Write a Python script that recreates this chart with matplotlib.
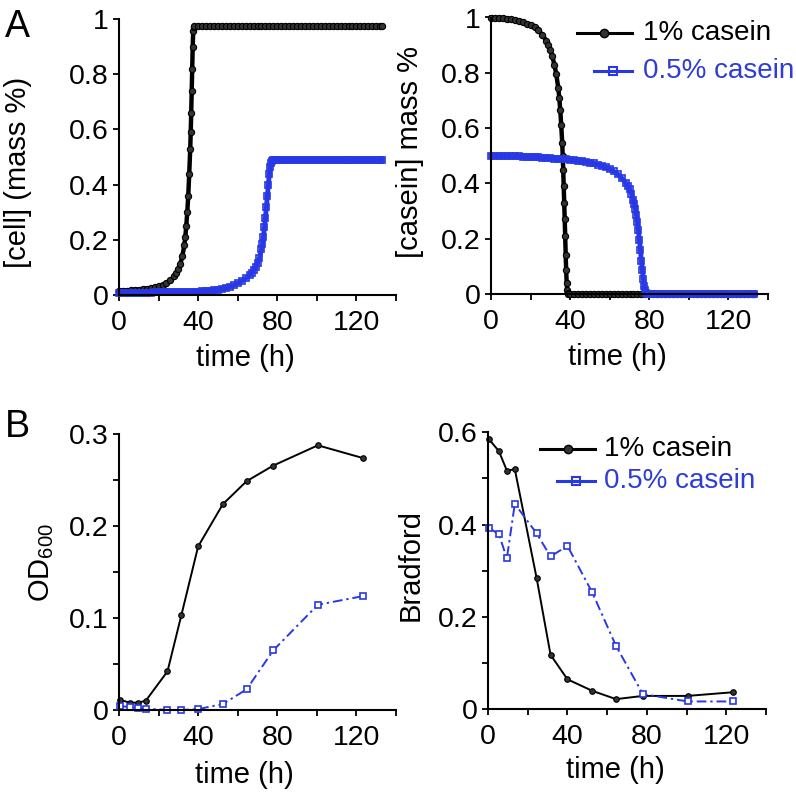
import numpy as np
import matplotlib
matplotlib.use("Agg")
import matplotlib.pyplot as plt
from matplotlib.ticker import MultipleLocator, FuncFormatter

plt.rcParams['font.family'] = 'Liberation Sans'
plt.rcParams['mathtext.default'] = 'regular'

BLUE = '#2838E4'
BLUE_TEXT = '#2F3DD8'

# ---- Panel A: model curves ----
t_cell_1 = [0, 2, 4, 6, 8, 10, 12, 14, 16, 18, 20, 22, 24, 26, 28, 29, 30, 31, 32, 33,
            33.5, 34, 34.5, 35, 35.5, 36, 36.25, 36.5, 36.75, 37, 37.25, 37.5, 37.75, 38,
            40, 42, 44, 46, 48, 50, 52, 54, 56, 58, 60, 62, 64, 66, 68, 70, 72, 74, 76, 78,
            80, 82, 84, 86, 88, 90, 92, 94, 96, 98, 100, 102, 104, 106, 108, 110, 112, 114,
            116, 118, 120, 122, 124, 126, 128, 130, 132, 133]
cell_1 = [0.015, 0.015, 0.016, 0.017, 0.018, 0.019, 0.021, 0.023, 0.025, 0.028, 0.031, 0.036,
          0.043, 0.053, 0.068, 0.078, 0.093, 0.113, 0.140, 0.180,
          0.21, 0.25, 0.30, 0.36, 0.44, 0.53, 0.59, 0.66, 0.74, 0.82, 0.90, 0.955, 0.972, 0.975,
          0.975, 0.975, 0.975, 0.975, 0.975, 0.975, 0.975, 0.975, 0.975, 0.975, 0.975, 0.975,
          0.975, 0.975, 0.975, 0.975, 0.975, 0.975, 0.975, 0.975, 0.975, 0.975, 0.975, 0.975,
          0.975, 0.975, 0.975, 0.975, 0.975, 0.975, 0.975, 0.975, 0.975, 0.975, 0.975, 0.975,
          0.975, 0.975, 0.975, 0.975, 0.975, 0.975, 0.975, 0.975, 0.975, 0.975, 0.975, 0.975]

t_cell_05 = [0, 2, 4, 6, 8, 10, 12, 14, 16, 18, 20, 22, 24, 26, 28, 30, 32, 34, 36, 38, 40,
             42, 44, 46, 48, 50, 52, 54, 56, 58, 60, 62, 64, 66, 67, 68, 69, 70, 71, 72, 72.5,
             73, 73.5, 74, 74.5, 75, 75.5, 76, 76.5, 77, 77.5, 78, 79, 80, 82, 84, 86, 88, 90,
             92, 94, 96, 98, 100, 102, 104, 106, 108, 110, 112, 114, 116, 118, 120, 122, 124,
             126, 128, 130, 132, 133]
cell_05 = [0.008, 0.008, 0.008, 0.008, 0.008, 0.009, 0.009, 0.009, 0.009, 0.010, 0.010, 0.010,
           0.010, 0.010, 0.011, 0.011, 0.011, 0.011, 0.012, 0.012, 0.012,
           0.013, 0.014, 0.016, 0.017, 0.019, 0.021, 0.024, 0.029, 0.035, 0.042, 0.050, 0.060,
           0.073, 0.081, 0.090, 0.100, 0.115, 0.135, 0.165, 0.185,
           0.21, 0.245, 0.28, 0.32, 0.36, 0.40, 0.44, 0.465, 0.478, 0.485, 0.488, 0.489, 0.489,
           0.489, 0.489, 0.489, 0.489, 0.489, 0.489, 0.489, 0.489, 0.489, 0.489, 0.489, 0.489,
           0.489, 0.489, 0.489, 0.489, 0.489, 0.489, 0.489, 0.489, 0.489, 0.489, 0.489, 0.489,
           0.489, 0.489, 0.489]

t_cas_1 = [0, 2, 4, 6, 8, 10, 12, 14, 16, 18, 20, 22, 24, 26, 28, 29, 30, 31, 32, 33, 34,
           34.5, 35, 35.5, 36, 36.25, 36.5, 36.75, 37, 37.25, 37.5, 37.75, 38, 38.25, 38.5,
           38.75, 39, 40, 42, 44, 46, 48, 50, 52, 54, 56, 58, 60, 62, 64, 66, 68, 70, 72, 74,
           76, 78, 80, 82, 84, 86, 88, 90, 92, 94, 96, 98, 100, 102, 104, 106, 108, 110, 112,
           114, 116, 118, 120, 122, 124, 126, 128, 130, 132, 133]
cas_1 = [1.0, 0.999, 0.998, 0.997, 0.995, 0.993, 0.990, 0.987, 0.983, 0.978, 0.972, 0.964,
         0.953, 0.937, 0.915, 0.900, 0.882, 0.860, 0.830, 0.795, 0.745,
         0.71, 0.665, 0.61, 0.545, 0.50, 0.45, 0.39, 0.33, 0.27, 0.21, 0.14, 0.085, 0.04, 0.015,
         0.004, 0.0, 0.0, 0.0, 0.0, 0.0, 0.0, 0.0, 0.0, 0.0, 0.0, 0.0, 0.0, 0.0, 0.0, 0.0, 0.0,
         0.0, 0.0, 0.0, 0.0, 0.0, 0.0, 0.0, 0.0, 0.0, 0.0, 0.0, 0.0, 0.0, 0.0, 0.0, 0.0, 0.0,
         0.0, 0.0, 0.0, 0.0, 0.0, 0.0, 0.0, 0.0, 0.0, 0.0, 0.0, 0.0, 0.0, 0.0, 0.0, 0.0]

t_cas_05 = [0, 2, 4, 6, 8, 10, 12, 14, 16, 18, 20, 22, 24, 26, 28, 30, 32, 34, 36, 38, 40,
            42, 44, 46, 48, 50, 52, 54, 56, 58, 60, 62, 64, 66, 68, 69, 70, 71, 72, 72.5, 73,
            73.5, 74, 74.5, 75, 75.5, 76, 76.5, 77, 77.5, 78, 78.5, 79, 80, 82, 84, 86, 88, 90,
            92, 94, 96, 98, 100, 102, 104, 106, 108, 110, 112, 114, 116, 118, 120, 122, 124,
            126, 128, 130, 132, 133]
cas_05 = [0.500, 0.500, 0.499, 0.499, 0.499, 0.499, 0.498, 0.498, 0.497, 0.497, 0.496, 0.495,
          0.494, 0.493, 0.492, 0.491, 0.490, 0.489, 0.488, 0.487, 0.486,
          0.484, 0.482, 0.480, 0.478, 0.475, 0.472, 0.468, 0.464, 0.459, 0.452, 0.444, 0.434,
          0.420, 0.403, 0.392, 0.378, 0.362, 0.340, 0.325, 0.307,
          0.285, 0.26, 0.23, 0.195, 0.16, 0.12, 0.085, 0.055, 0.03, 0.014, 0.005, 0.001, 0.0,
          0.0, 0.0, 0.0, 0.0, 0.0, 0.0, 0.0, 0.0, 0.0, 0.0, 0.0, 0.0, 0.0, 0.0, 0.0, 0.0, 0.0,
          0.0, 0.0, 0.0, 0.0, 0.0, 0.0, 0.0, 0.0, 0.0, 0.0]

# ---- Panel B: measurements ----
t_exp = [0.5, 5.5, 9.5, 13.5, 24.5, 31.5, 40, 52.5, 64.5, 78, 100.5, 123.5]
od_1 = [0.011, 0.008, 0.008, 0.010, 0.042, 0.103, 0.178, 0.224, 0.249, 0.266, 0.288, 0.274]
od_05 = [0.0045, 0.003, 0.0025, 0.0015, 0.0, 0.0, 0.001, 0.0065, 0.0225, 0.065, 0.1145, 0.124]
brad_1 = [0.585, 0.559, 0.517, 0.520, 0.284, 0.118, 0.065, 0.040, 0.022, 0.029, 0.029, 0.037]
brad_05 = [0.393, 0.379, 0.327, 0.445, 0.381, 0.331, 0.354, 0.253, 0.137, 0.033, 0.017, 0.017]

labels = ['1% casein', '0.5% casein']

W, H = 796, 792
fig = plt.figure(figsize=(W / 100, H / 100), dpi=100)


def px_axes(left, top, right, bottom):
    return fig.add_axes([left / W, 1 - bottom / H, (right - left) / W, (bottom - top) / H])


def style(ax, ymax, ymajor, yminor=None):
    ax.set_xlim(0, 140)
    ax.set_ylim(0, ymax)
    for s in ['top', 'right']:
        ax.spines[s].set_visible(False)
    for s in ['left', 'bottom']:
        ax.spines[s].set_linewidth(1.5)
    ax.xaxis.set_major_locator(MultipleLocator(40))
    ax.xaxis.set_minor_locator(MultipleLocator(20))
    ax.yaxis.set_major_locator(MultipleLocator(ymajor))
    if yminor:
        ax.yaxis.set_minor_locator(MultipleLocator(yminor))
    ax.yaxis.set_major_formatter(FuncFormatter(lambda v, p: f'{v:g}'))
    ax.tick_params(which='both', direction='out', length=4.5, width=1.3, labelsize=20.5)
    ax.tick_params(axis='x', which='both', pad=6)
    ax.tick_params(axis='y', which='both', pad=3)


def legend(ax, x0, x1, x0b, xt, y1, y2):
    ax.plot([x0, x1], [y1, y1], '-', color='black', lw=2.2, transform=ax.transAxes, clip_on=False)
    ax.plot([(x0 + x1) / 2], [y1], 'o', color='black', ms=6, mfc='#333333', transform=ax.transAxes, clip_on=False)
    ax.plot([x0b, x1], [y2, y2], '-', color=BLUE, lw=2.2, transform=ax.transAxes, clip_on=False)
    ax.plot([(x0b + x1) / 2], [y2], 's', color=BLUE, ms=6, mfc='none', mew=1.5, transform=ax.transAxes, clip_on=False)
    ax.text(xt, y1, labels[0], transform=ax.transAxes, fontsize=20, va='center', ha='left', color='black')
    ax.text(xt, y2, labels[1], transform=ax.transAxes, fontsize=20, va='center', ha='left', color=BLUE_TEXT)


# A left: cell
ax1 = px_axes(119, 19, 396, 295)
ax1.plot(t_cell_1, cell_1, '-o', color='black', lw=3.2, ms=4.5, mfc='#333333', mew=0.8, clip_on=False)
ax1.plot(t_cell_05, cell_05, '-s', color=BLUE, lw=3.5, ms=5, mfc='none', mew=1.2, clip_on=False)
style(ax1, 1, 0.2)

# A right: casein
ax2 = px_axes(491, 17.5, 768, 294)
ax2.plot(t_cas_1, cas_1, '-o', color='black', lw=3.2, ms=4.5, mfc='#333333', mew=0.8, clip_on=False)
ax2.plot(t_cas_05, cas_05, '-s', color=BLUE, lw=3.5, ms=5, mfc='none', mew=1.2, clip_on=False)
style(ax2, 1, 0.2)
legend(ax2, 0.310, 0.509, 0.372, 0.549, 0.943, 0.806)

# B left: OD600
ax3 = px_axes(119, 434.3, 396, 710)
ax3.plot(t_exp, od_1, '-o', color='black', lw=1.4, ms=4, mfc='#333333', mew=0.8, clip_on=False)
ax3.plot(t_exp, od_05, '-s', color=BLUE, lw=1.4, ms=5, mfc='white', mew=1.2,
         dashes=(5, 2, 1.2, 2), clip_on=False)
style(ax3, 0.3, 0.1, 0.05)

# B right: Bradford
ax4 = px_axes(488, 432.3, 766, 709.3)
ax4.plot(t_exp, brad_1, '-o', color='black', lw=1.4, ms=4, mfc='#333333', mew=0.8, clip_on=False)
ax4.plot(t_exp, brad_05, '-s', color=BLUE, lw=1.4, ms=5, mfc='white', mew=1.2,
         dashes=(5, 2, 1.2, 2), clip_on=False)
style(ax4, 0.6, 0.2, 0.1)
legend(ax4, 0.187, 0.385, 0.248, 0.417, 0.940, 0.824)

# axis labels placed in figure pixels
fs = 21
fig.text(18.5 / W, 1 - 172 / H, '[cell] (mass %)', rotation=90, ha='center', va='center', fontsize=fs)
fig.text(410 / W, 1 - 152.5 / H, '[casein] mass %', rotation=90, ha='center', va='center', fontsize=fs)
fig.text(41.5 / W, 1 - 562 / H, 'OD$_{600}$', rotation=90, ha='center', va='center', fontsize=fs)
fig.text(411 / W, 1 - 565 / H, 'Bradford', rotation=90, ha='center', va='center', fontsize=fs)
fig.text(245 / W, 1 - 366 / H, 'time (h)', ha='center', va='baseline', fontsize=fs)
fig.text(617 / W, 1 - 365 / H, 'time (h)', ha='center', va='baseline', fontsize=fs)
fig.text(244 / W, 1 - 783 / H, 'time (h)', ha='center', va='baseline', fontsize=fs)
fig.text(615 / W, 1 - 778 / H, 'time (h)', ha='center', va='baseline', fontsize=fs)

fig.text(5 / W, 1 - 37 / H, 'A', ha='left', va='baseline', fontsize=27)
fig.text(5 / W, 1 - 437 / H, 'B', ha='left', va='baseline', fontsize=27)

fig.savefig('out.png', dpi=100)
